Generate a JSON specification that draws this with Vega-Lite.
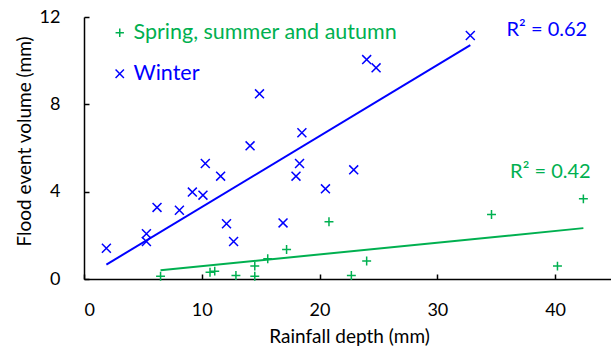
{
  "$schema": "https://vega.github.io/schema/vega-lite/v6.json",
  "width": 530,
  "height": 262,
  "autosize": {"type": "none"},
  "padding": {"left": 84, "top": 17, "right": 0, "bottom": 69},
  "background": "white",
  "config": {
    "view": {"stroke": null},
    "font": "Lato",
    "axis": {
      "grid": false,
      "domainColor": "black",
      "domainWidth": 1.5,
      "tickColor": "black",
      "tickWidth": 1.5,
      "tickSize": -5,
      "labelColor": "black",
      "titleColor": "black",
      "labelFontSize": 18,
      "titleFontSize": 19,
      "titleFontWeight": "normal",
      "labelFont": "Lato",
      "titleFont": "Lato"
    },
    "legend": {
      "orient": "none",
      "legendX": 25,
      "legendY": 5,
      "labelFontSize": 21.5,
      "labelFont": "Lato",
      "labelOffset": 3,
      "rowPadding": 18,
      "symbolSize": 70,
      "symbolStrokeWidth": 1.5,
      "labelLimit": 400
    }
  },
  "datasets": {
    "points": [
      {"season": "Winter", "rain": 1.9, "vol": 1.41},
      {"season": "Winter", "rain": 5.3, "vol": 2.07},
      {"season": "Winter", "rain": 5.3, "vol": 1.72},
      {"season": "Winter", "rain": 6.2, "vol": 3.28},
      {"season": "Winter", "rain": 8.1, "vol": 3.15},
      {"season": "Winter", "rain": 9.2, "vol": 3.98},
      {"season": "Winter", "rain": 10.1, "vol": 3.84},
      {"season": "Winter", "rain": 10.3, "vol": 5.29},
      {"season": "Winter", "rain": 11.6, "vol": 4.71},
      {"season": "Winter", "rain": 12.1, "vol": 2.53},
      {"season": "Winter", "rain": 12.7, "vol": 1.72},
      {"season": "Winter", "rain": 14.1, "vol": 6.1},
      {"season": "Winter", "rain": 14.9, "vol": 8.48},
      {"season": "Winter", "rain": 16.9, "vol": 2.57},
      {"season": "Winter", "rain": 18.0, "vol": 4.71},
      {"season": "Winter", "rain": 18.3, "vol": 5.29},
      {"season": "Winter", "rain": 18.5, "vol": 6.7},
      {"season": "Winter", "rain": 20.5, "vol": 4.13},
      {"season": "Winter", "rain": 22.9, "vol": 5.0},
      {"season": "Winter", "rain": 24.0, "vol": 10.05},
      {"season": "Winter", "rain": 24.8, "vol": 9.67},
      {"season": "Winter", "rain": 32.8, "vol": 11.15},
      {"season": "Spring, summer and autumn", "rain": 6.5, "vol": 0.13},
      {"season": "Spring, summer and autumn", "rain": 10.7, "vol": 0.31},
      {"season": "Spring, summer and autumn", "rain": 11.1, "vol": 0.36},
      {"season": "Spring, summer and autumn", "rain": 12.9, "vol": 0.16},
      {"season": "Spring, summer and autumn", "rain": 14.5, "vol": 0.59},
      {"season": "Spring, summer and autumn", "rain": 14.5, "vol": 0.13},
      {"season": "Spring, summer and autumn", "rain": 15.6, "vol": 0.93},
      {"season": "Spring, summer and autumn", "rain": 17.2, "vol": 1.35},
      {"season": "Spring, summer and autumn", "rain": 20.8, "vol": 2.62},
      {"season": "Spring, summer and autumn", "rain": 22.7, "vol": 0.16},
      {"season": "Spring, summer and autumn", "rain": 24.0, "vol": 0.82},
      {"season": "Spring, summer and autumn", "rain": 34.6, "vol": 2.95},
      {"season": "Spring, summer and autumn", "rain": 40.2, "vol": 0.59},
      {"season": "Spring, summer and autumn", "rain": 42.4, "vol": 3.67}
    ],
    "fits": [
      {"season": "Winter", "rain": 1.9, "vol": 0.66},
      {"season": "Winter", "rain": 32.8, "vol": 10.71},
      {"season": "Spring, summer and autumn", "rain": 6.5, "vol": 0.4},
      {"season": "Spring, summer and autumn", "rain": 42.4, "vol": 2.33}
    ],
    "labels": [
      {"season": "Winter", "rain": 39.3, "vol": 11.4, "text": "R² = 0.62"},
      {"season": "Spring, summer and autumn", "rain": 39.6, "vol": 4.92, "text": "R² = 0.42"}
    ]
  },
  "layer": [
    {
      "data": {"name": "points"},
      "mark": {"type": "point", "filled": false, "strokeWidth": 1.5, "opacity": 1},
      "encoding": {
        "x": {"field": "rain", "type": "quantitative", "scale": {"domain": [0, 45], "nice": false},
              "axis": {"values": [0, 10, 20, 30, 40], "title": "Rainfall depth (mm)", "labelPadding": 27, "titlePadding": 8}},
        "y": {"field": "vol", "type": "quantitative", "scale": {"domain": [0, 12], "nice": false},
              "axis": {"values": [0, 4, 8, 12], "title": "Flood event volume (mm)", "labelPadding": 29, "titleX": -50, "titleY": 124}},
        "color": {"field": "season", "type": "nominal",
                  "scale": {"domain": ["Spring, summer and autumn", "Winter"], "range": ["#00B050", "#0000FF"]},
                  "legend": {"title": null,
                             "labelColor": {"expr": "datum.label === 'Winter' ? '#0000FF' : '#00B050'"}}},
        "shape": {"field": "season", "type": "nominal",
                  "scale": {"domain": ["Spring, summer and autumn", "Winter"], "range": ["M-1,0H1M0,-1V1", "M-1,-1L1,1M-1,1L1,-1"]},
                  "legend": {"title": null,
                             "labelColor": {"expr": "datum.label === 'Winter' ? '#0000FF' : '#00B050'"}}},
        "size": {"value": 80}
      }
    },
    {
      "data": {"name": "fits"},
      "mark": {"type": "line", "strokeWidth": 2},
      "encoding": {
        "x": {"field": "rain", "type": "quantitative"},
        "y": {"field": "vol", "type": "quantitative"},
        "stroke": {"field": "season", "type": "nominal",
                   "scale": {"domain": ["Spring, summer and autumn", "Winter"], "range": ["#00B050", "#0000FF"]},
                   "legend": null},
        "detail": {"field": "season"}
      }
    },
    {
      "data": {"name": "labels"},
      "mark": {"type": "text", "fontSize": 20, "font": "Lato", "align": "center", "baseline": "middle"},
      "encoding": {
        "x": {"field": "rain", "type": "quantitative"},
        "y": {"field": "vol", "type": "quantitative"},
        "text": {"field": "text"},
        "fill": {"field": "season", "type": "nominal",
                 "scale": {"domain": ["Spring, summer and autumn", "Winter"], "range": ["#00B050", "#0000FF"]},
                 "legend": null}
      }
    }
  ]
}
